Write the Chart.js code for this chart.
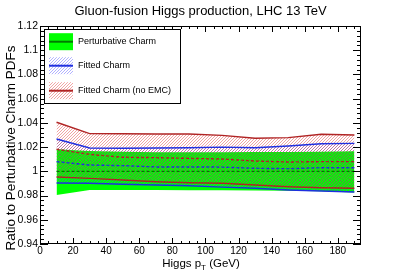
<!DOCTYPE html>
<html>
<head>
<meta charset="utf-8">
<script src="https://cdn.jsdelivr.net/npm/chart.js@4.4.1/dist/chart.umd.min.js"></script>
<style>
  html, body { margin: 0; padding: 0; background: #fff; }
  canvas { display: block; }
</style>
</head>
<body>
<canvas id="chartCanvas" width="401" height="272"></canvas>
<script>
// Bin centres (Higgs pT, GeV)
const xBins = [10, 30, 50, 70, 90, 110, 130, 150, 170, 190];

// Perturbative charm (green band), ratio to itself
const pertUpper   = [1.0182, 1.0168, 1.0162, 1.0158, 1.0157, 1.0157, 1.0160, 1.0160, 1.0162, 1.0165];
const pertCentral = [1.0, 1.0, 1.0, 1.0, 1.0, 1.0, 1.0, 1.0, 1.0, 1.0];
const pertLower   = [0.9805, 0.9845, 0.9845, 0.9845, 0.9843, 0.9843, 0.9842, 0.9840, 0.9835, 0.9825];

// Fitted charm (blue)
const fitUpper   = [1.0267, 1.0193, 1.0190, 1.0193, 1.0195, 1.0200, 1.0195, 1.0209, 1.0228, 1.0231];
const fitCentral = [1.0080, 1.0052, 1.0047, 1.0036, 1.0036, 1.0035, 1.0025, 1.0022, 1.0030, 1.0030];
const fitLower   = [0.9904, 0.9901, 0.9893, 0.9887, 0.9881, 0.9870, 0.9860, 0.9846, 0.9837, 0.9829];

// Fitted charm, no EMC (red)
const noEmcUpper   = [1.0405, 1.0311, 1.0310, 1.0308, 1.0308, 1.0297, 1.0273, 1.0278, 1.0306, 1.0300];
const noEmcCentral = [1.0182, 1.0140, 1.0116, 1.0113, 1.0107, 1.0102, 1.0085, 1.0077, 1.0080, 1.0080];
const noEmcLower   = [0.9953, 0.9942, 0.9928, 0.9914, 0.9906, 0.9901, 0.9887, 0.9873, 0.9865, 0.9860];

const xTickValues = [0, 20, 40, 60, 80, 100, 120, 140, 160, 180];
const yTickValues = [0.94, 0.96, 0.98, 1.0, 1.02, 1.04, 1.06, 1.08, 1.1, 1.12];
const legendLabels = ['Perturbative Charm', 'Fitted Charm', 'Fitted Charm (no EMC)'];

const FONT = '"Liberation Sans", Arial, Helvetica, sans-serif';
const green = '#00ff00';
const darkGreen = '#007a00';
const blue = '#1f2fe0';
const red = '#b02424';

function toPoints(ys) {
    return xBins.map((x, i) => ({ x: x, y: ys[i] }));
}

// diagonal "////" hatch like ROOT fill style 3004, one pixel per row
function makeHatch(color) {
    const s = 3;
    const c = document.createElement('canvas');
    c.width = s;
    c.height = s;
    const g = c.getContext('2d');
    g.fillStyle = color;
    for (let i = 0; i < s; i++) {
        g.fillRect(i, s - 1 - i, 1, 1);
    }
    return g.createPattern(c, 'repeat');
}

const blueHatch = makeHatch('rgba(70,70,255,0.42)');
const redHatch = makeHatch('rgba(220,40,40,0.42)');

function band(ys, target, color, order) {
    return { data: toPoints(ys), fill: target === null ? false : target, backgroundColor: color, borderWidth: 0, order: order };
}
function line(ys, color, dash) {
    return { data: toPoints(ys), fill: false, borderColor: color, borderWidth: 1.4, borderDash: dash || [], order: 0 };
}

// frame, inside ticks, titles and legend, drawn ROOT style
const rootFrame = {
    id: 'rootFrame',
    afterDraw(chart) {
        const { ctx, chartArea: a, scales: { x, y } } = chart;
        ctx.save();
        ctx.strokeStyle = '#000';
        ctx.lineWidth = 1;

        // y ticks, 5 subdivisions
        ctx.beginPath();
        for (let i = 0; i <= 45; i++) {
            const v = 0.94 + i * 0.004;
            const py = Math.round(y.getPixelForValue(v)) + 0.5;
            const len = i % 5 === 0 ? 8 : 4;
            ctx.moveTo(a.left, py); ctx.lineTo(a.left + len, py);
            ctx.moveTo(a.right, py); ctx.lineTo(a.right - len, py);
        }
        // x ticks, 4 subdivisions
        for (let v = 0; v <= x.max; v += 5) {
            const px = Math.round(x.getPixelForValue(v)) + 0.5;
            const len = v % 20 === 0 ? 6 : 3;
            ctx.moveTo(px, a.bottom); ctx.lineTo(px, a.bottom - len);
            ctx.moveTo(px, a.top); ctx.lineTo(px, a.top + len);
        }
        ctx.stroke();
        ctx.strokeRect(Math.round(a.left) + 0.5, Math.round(a.top) + 0.5,
            Math.round(a.right - a.left) - 1, Math.round(a.bottom - a.top) - 1);

        // title
        ctx.fillStyle = '#000';
        ctx.textBaseline = 'alphabetic';
        ctx.textAlign = 'center';
        ctx.font = '13px ' + FONT;
        ctx.fillText('Gluon-fusion Higgs production, LHC 13 TeV', 200.5, 14.5);

        // x title with subscript
        ctx.textAlign = 'left';
        ctx.font = '11.5px ' + FONT;
        const p1 = 'Higgs p', p3 = ' (GeV)';
        const w1 = ctx.measureText(p1).width;
        const w3 = ctx.measureText(p3).width;
        ctx.font = '8px ' + FONT;
        const w2 = ctx.measureText('T').width;
        let sx = 201 - (w1 + w2 + w3) / 2;
        ctx.font = '11.5px ' + FONT;
        ctx.fillText(p1, sx, 266.5);
        ctx.font = '8px ' + FONT;
        ctx.fillText('T', sx + w1, 270);
        ctx.font = '11.5px ' + FONT;
        ctx.fillText(p3, sx + w1 + w2, 266.5);

        // y title
        ctx.save();
        ctx.translate(15, 148);
        ctx.rotate(-Math.PI / 2);
        ctx.textAlign = 'center';
        ctx.font = '13.5px ' + FONT;
        ctx.fillText('Ratio to Perturbative Charm PDFs', 0, 0);
        ctx.restore();

        // legend box
        ctx.fillStyle = '#fff';
        ctx.fillRect(44, 29, 136, 74);
        ctx.strokeRect(44.5, 29.5, 136, 74);
        const rows = [
            { fill: green, color: darkGreen, cy: 41.7 },
            { fill: blueHatch, color: blue, cy: 65.7 },
            { fill: redHatch, color: red, cy: 90.7 }
        ];
        ctx.font = '9px ' + FONT;
        ctx.textBaseline = 'middle';
        rows.forEach((r, i) => {
            ctx.fillStyle = r.fill;
            ctx.fillRect(49, r.cy - 8.5, 24, 17);
            ctx.strokeStyle = r.color;
            ctx.lineWidth = 2;
            ctx.beginPath();
            ctx.moveTo(49, r.cy); ctx.lineTo(73, r.cy);
            ctx.stroke();
            ctx.fillStyle = '#000';
            ctx.fillText(legendLabels[i], 78, r.cy);
        });
        ctx.restore();
    }
};

const ctx = document.getElementById('chartCanvas').getContext('2d');
const chart = new Chart(ctx, {
    type: 'line',
    data: {
        datasets: [
            band(pertUpper, 1, green, 30),
            band(pertLower, null, green, 30),
            band(fitUpper, 3, blueHatch, 20),
            band(fitLower, null, blueHatch, 20),
            band(noEmcUpper, 5, redHatch, 10),
            band(noEmcLower, null, redHatch, 10),
            line(pertCentral, darkGreen, [3, 2]),
            line(noEmcUpper, red),
            line(noEmcLower, red),
            line(noEmcCentral, red, [3, 2]),
            line(fitUpper, blue),
            line(fitLower, blue),
            line(fitCentral, blue, [3, 2])
        ]
    },
    options: {
        responsive: false,
        animation: false,
        devicePixelRatio: 1,
        layout: { padding: { top: 26, right: 40, left: 0, bottom: 0 } },
        elements: { point: { radius: 0 }, line: { tension: 0 } },
        plugins: { legend: { display: false }, tooltip: { enabled: false }, title: { display: false } },
        scales: {
            x: {
                type: 'linear',
                min: 0,
                max: 194,
                afterBuildTicks: s => { s.ticks = xTickValues.map(v => ({ value: v })); },
                afterFit: s => { s.height = 28; },
                ticks: { color: '#000', font: { family: FONT, size: 10 }, padding: 1, maxRotation: 0, autoSkip: false, callback: v => String(v) },
                grid: { display: false, drawTicks: false },
                border: { display: false }
            },
            y: {
                min: 0.94,
                max: 1.12,
                afterBuildTicks: s => { s.ticks = yTickValues.map(v => ({ value: v })); },
                afterFit: s => { s.width = 40; },
                ticks: { color: '#000', font: { family: FONT, size: 10.5 }, padding: 2, autoSkip: false, callback: v => String(+v.toFixed(2)) },
                grid: { display: false, drawTicks: false },
                border: { display: false }
            }
        }
    },
    plugins: [rootFrame]
});
</script>
</body>
</html>
